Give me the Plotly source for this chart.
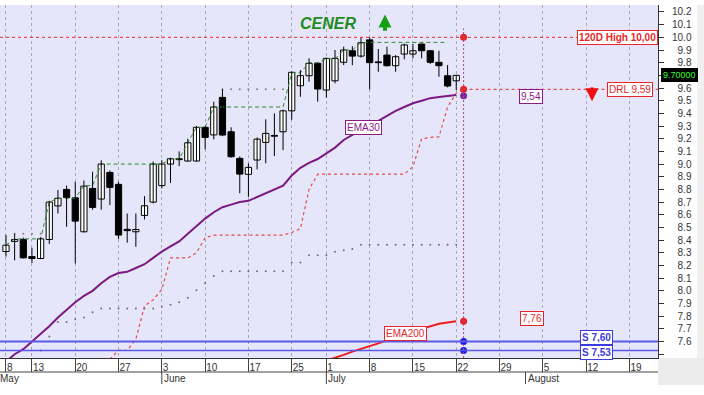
import pandas as pd
import plotly.graph_objects as go

# ---------------- data ----------------
candle_dates = [
    "2019-05-08", "2019-05-09", "2019-05-10", "2019-05-13", "2019-05-14", "2019-05-15", "2019-05-16",
    "2019-05-17", "2019-05-20", "2019-05-21", "2019-05-22", "2019-05-23", "2019-05-24", "2019-05-27",
    "2019-05-28", "2019-05-29", "2019-05-30", "2019-05-31",
    "2019-06-03", "2019-06-04", "2019-06-05", "2019-06-06", "2019-06-07", "2019-06-10", "2019-06-11",
    "2019-06-12", "2019-06-13", "2019-06-14", "2019-06-17", "2019-06-18", "2019-06-19", "2019-06-20",
    "2019-06-21", "2019-06-25", "2019-06-26", "2019-06-27", "2019-06-28",
    "2019-07-01", "2019-07-02", "2019-07-03", "2019-07-04", "2019-07-05", "2019-07-08", "2019-07-09",
    "2019-07-10", "2019-07-11", "2019-07-12", "2019-07-15", "2019-07-16", "2019-07-17", "2019-07-18",
    "2019-07-19", "2019-07-22",
]
open_ = [8.31, 8.39, 8.405, 8.27, 8.255, 8.405, 8.67, 8.80, 8.734, 8.466, 8.808, 8.724, 8.934, 8.84,
         8.485, 8.466, 8.595, 8.70, 8.83, 9.00, 9.042, 9.024, 9.024, 9.29, 9.23, 9.526, 9.255, 9.045,
         8.919, 9.032, 9.171, 9.226, 9.255, 9.42, 9.618, 9.697, 9.795, 9.584, 9.657, 9.803, 9.894,
         9.852, 9.98, 9.806, 9.86, 9.776, 9.868, 9.868, 9.947, 9.894, 9.803, 9.697, 9.657]
high = [8.44, 8.45, 8.42, 8.34, 8.42, 8.71, 8.795, 8.83, 8.86, 8.87, 8.94, 9.03, 8.95, 8.86,
        8.61, 8.61, 8.747, 9.02, 9.03, 9.05, 9.10, 9.20, 9.30, 9.30, 9.492, 9.59, 9.29, 9.06,
        9.006, 9.21, 9.353, 9.40, 9.43, 9.73, 9.742, 9.834, 9.80, 9.84, 9.90, 9.926, 9.93,
        10.0, 10.0, 9.908, 9.926, 9.86, 9.95, 9.947, 9.95, 9.90, 9.894, 9.781, 9.70]
low = [8.27, 8.24, 8.255, 8.22, 8.25, 8.37, 8.61, 8.505, 8.216, 8.46, 8.64, 8.64, 8.676, 8.41,
       8.38, 8.347, 8.563, 8.69, 8.808, 8.85, 8.984, 9.02, 9.02, 9.116, 9.195, 9.22, 9.05, 8.77,
       8.742, 8.958, 9.006, 9.063, 9.11, 9.35, 9.531, 9.65, 9.492, 9.523, 9.637, 9.781, 9.78,
       9.84, 9.59, 9.728, 9.77, 9.728, 9.826, 9.834, 9.834, 9.79, 9.689, 9.605, 9.584]
close = [8.36, 8.405, 8.26, 8.255, 8.41, 8.70, 8.73, 8.737, 8.55, 8.826, 8.658, 9.00, 8.816, 8.44,
         8.475, 8.484, 8.671, 9.00, 9.00, 9.042, 9.035, 9.168, 9.29, 9.21, 9.45, 9.229, 9.058, 8.921,
         8.974, 9.197, 9.242, 9.22, 9.42, 9.724, 9.697, 9.795, 9.592, 9.834, 9.834, 9.90, 9.852,
         9.957, 9.80, 9.80, 9.776, 9.847, 9.94, 9.894, 9.894, 9.803, 9.776, 9.616, 9.70]

ema30 = [7.44, 7.50, 7.54, 7.60, 7.66, 7.72, 7.79, 7.85, 7.91, 7.96, 8.00, 8.06, 8.11, 8.14,
         8.15, 8.18, 8.21, 8.26, 8.31, 8.35, 8.39, 8.45, 8.51, 8.57, 8.62, 8.66, 8.68, 8.70,
         8.71, 8.74, 8.77, 8.80, 8.83, 8.91, 8.97, 9.01, 9.04, 9.085, 9.13, 9.19, 9.23,
         9.27, 9.31, 9.34, 9.38, 9.42, 9.45, 9.48, 9.50, 9.52, 9.53, 9.54, 9.545]

ema200 = [None] * 37 + [7.45, 7.47, 7.495, 7.52, 7.54, 7.56, 7.585, 7.61, 7.63, 7.655, 7.675,
                        7.70, 7.72, 7.74, 7.75, 7.76]

trail_stop = [None] * 12 + [7.46, 7.53, 7.53, 7.62, 7.88, 7.93, 8.01, 8.26, 8.26, 8.26, 8.30,
                            8.42, 8.44, 8.44, 8.44, 8.44, 8.44, 8.44, 8.44, 8.44, 8.44, 8.46,
                            8.49, 8.80, 8.92, 8.92, 8.92, 8.92, 8.92, 8.92, 8.92, 8.92, 8.92,
                            8.92, 8.92, 8.98, 9.20, 9.21, 9.215, 9.45, 9.56]
drl_value = 9.59

high_close = [8.36, 8.41, 8.41, 8.41, 8.41, 8.70, 8.73, 8.73, 8.73, 8.83, 8.83, 9.0, 9.0, 9.0,
              9.0, 9.0, 9.0, 9.0, 9.0, 9.04, 9.04, 9.17, 9.29, 9.29, 9.45, 9.45, 9.45, 9.45,
              9.45, 9.45, 9.45, 9.45, 9.45, 9.72, 9.72, 9.80, 9.80, 9.83, 9.83, 9.90, 9.90,
              9.96, 9.96, 9.96, 9.96, 9.96, 9.96, 9.96, 9.96, 9.96, 9.96, 9.96, None]

upper_dots = [None, 8.45, 8.45, 8.45, 8.45] + [None] * 20 + [9.59] * 8 + [None] * 20

lower_dots = [None] * 4 + [7.53, 7.64, 7.755, 7.755, 7.775, 7.79, 7.83, 7.86, 7.86, 7.86, 7.86,
                           7.86, 7.86, 7.86, 7.875, 7.89, 7.91, 7.945, 8.005, 8.06, 8.116, 8.155,
                           8.155, 8.155, 8.155, 8.155, 8.155, 8.155, 8.155, 8.224, 8.224, 8.28,
                           8.28, 8.28, 8.308, 8.32, 8.33, 8.363, 8.363, 8.363, 8.363, 8.363,
                           8.363, 8.363, 8.363, 8.363, 8.363, 8.363, 8.363]

high_120d = 10.00
ema30_last = 9.54
ema200_last = 7.76
support_1 = 7.60
support_2 = 7.53
last_price = 9.70

tick_dates = ["2019-05-08", "2019-05-13", "2019-05-20", "2019-05-27", "2019-06-03", "2019-06-10",
              "2019-06-17", "2019-06-25", "2019-07-01", "2019-07-08", "2019-07-15", "2019-07-22",
              "2019-07-29", "2019-08-05", "2019-08-12", "2019-08-19"]
month_starts = [("June", "2019-06-03"), ("July", "2019-07-01"), ("August", "2019-08-01")]
y_ticks = [7.5, 7.6, 7.7, 7.8, 7.9, 8.0, 8.1, 8.2, 8.3, 8.4, 8.5, 8.6, 8.7, 8.8, 8.9,
           9.0, 9.1, 9.2, 9.3, 9.4, 9.5, 9.6, 9.7, 9.8, 9.9, 10.0, 10.1, 10.2]

# ---------------- trading calendar (x positions) ----------------
cal = [d.strftime("%Y-%m-%d") for d in pd.bdate_range("2019-05-08", "2019-08-23")
       if d.strftime("%Y-%m-%d") != "2019-06-24"]
pos = {d: k for k, d in enumerate(cal)}
x = [pos[d] for d in candle_dates]
x_next = x[-1] + 0.85

# pixel helpers for layout placement
W, H = 704, 395
ML, MR, MT, MB = 0, 46, 5, 37
PW, PH = W - ML - MR, H - MT - MB
XR = [-0.69, 75.3]
YR = [7.47, 10.255]


def xi(px):
    return XR[0] + (px - ML) / PW * (XR[1] - XR[0])


def py(px):
    return (H - MB - px) / PH


def pxp(px):
    return (px - ML) / PW


FONT = "Liberation Sans, Arial, sans-serif"
RED = "#e8262a"
PURPLE = "#8a1a8a"
BLUE = "#3c3cdc"
GREEN = "#1e8c1e"

fig = go.Figure()

# lower gray dots
fig.add_trace(go.Scatter(x=x, y=lower_dots, mode="markers",
                         marker=dict(size=2, color="#707070"), hoverinfo="skip"))
fig.add_trace(go.Scatter(x=x, y=upper_dots, mode="markers",
                         marker=dict(size=2, color="#808080"), hoverinfo="skip"))
# trailing stop (red dotted)
fig.add_trace(go.Scatter(x=x + [x_next], y=trail_stop + [drl_value], mode="lines",
                         line=dict(color="#e8484a", width=1.2, dash="3px,3px"), hoverinfo="skip",
                         connectgaps=False))
# highest close (green dashed)
fig.add_trace(go.Scatter(x=x, y=high_close, mode="lines",
                         line=dict(color="#2e8b2e", width=1, dash="4px,3px"), hoverinfo="skip"))
# EMA lines
fig.add_trace(go.Scatter(x=x, y=ema30, mode="lines", line=dict(color="#7a1a80", width=2),
                         hoverinfo="skip"))
fig.add_trace(go.Scatter(x=x, y=ema200, mode="lines", line=dict(color="#ee1c1c", width=2),
                         hoverinfo="skip"))

# candles: wicks + bodies
wx, wy = [], []
for xx, lo, hi in zip(x, low, high):
    wx += [xx, xx, None]
    wy += [lo, hi, None]
fig.add_trace(go.Scatter(x=wx, y=wy, mode="lines", line=dict(color="black", width=1),
                         hoverinfo="skip"))
body_base = [min(o, c) for o, c in zip(open_, close)]
body_len = [max(abs(c - o), 0.004) for o, c in zip(open_, close)]
body_col = ["white" if c >= o else "black" for o, c in zip(open_, close)]
fig.add_trace(go.Bar(x=x, y=body_len, base=body_base, width=0.72,
                     marker=dict(color=body_col, line=dict(color="black", width=1)),
                     hoverinfo="skip"))

# dots at next session
fig.add_trace(go.Scatter(
    x=[x_next] * 6,
    y=[high_120d, drl_value, ema30_last, ema200_last, support_1, support_2],
    mode="markers",
    marker=dict(size=7, color=[RED, RED, "#7a2a9a", RED, "#1a1aee", "#1a1aee"]),
    hoverinfo="skip"))

shapes = []
# horizontal support lines
shapes.append(dict(type="line", xref="paper", x0=0, x1=1, yref="y", y0=support_1, y1=support_1,
                   line=dict(color="#5a5ae6", width=2)))
shapes.append(dict(type="line", xref="paper", x0=0, x1=1, yref="y", y0=support_2, y1=support_2,
                   line=dict(color="#5a5ae6", width=1.5)))
# 120D high
shapes.append(dict(type="line", xref="paper", x0=0, x1=1, yref="y", y0=high_120d, y1=high_120d,
                   line=dict(color=RED, width=1, dash="3px,3px")))
# DRL
shapes.append(dict(type="line", xref="x", x0=x_next, x1=XR[1], yref="y", y0=drl_value, y1=drl_value,
                   line=dict(color=RED, width=1, dash="3px,3px")))
# vertical dotted at next session
shapes.append(dict(type="line", xref="x", x0=x_next, x1=x_next, yref="y", y0=YR[0], y1=10.07,
                   line=dict(color="#b8407a", width=1, dash="2px,2px")))
# date axis decorations
shapes.append(dict(type="line", xref="paper", x0=0, x1=1, yref="paper", y0=py(372), y1=py(372),
                   line=dict(color="#444", width=1)))
for name, d in month_starts:
    shapes.append(dict(type="line", xref="x", x0=pos[d], x1=pos[d],
                       yref="paper", y0=py(372), y1=py(384), line=dict(color="#444", width=1)))
# gray corner areas
shapes.append(dict(type="rect", xref="paper", x0=1, x1=pxp(704), yref="paper", y0=py(385), y1=py(358),
                   fillcolor="#ececec", line=dict(width=0), layer="below"))
shapes.append(dict(type="rect", xref="paper", x0=pxp(697), x1=pxp(704), yref="paper", y0=py(358), y1=py(5),
                   fillcolor="#f0f0f0", line=dict(width=0), layer="below"))

ann = []


def box(text, xx, yy, color, xref="x", xanchor="center", bold=False, size=10, bg="white", fc=None):
    ann.append(dict(text=("<b>%s</b>" % text) if bold else text, x=xx, y=yy, xref=xref, yref="y",
                    xanchor=xanchor, yanchor="middle", showarrow=False,
                    font=dict(family=FONT, size=size, color=fc or color),
                    bgcolor=bg, bordercolor=color, borderwidth=1, borderpad=1))


box("120D High 10,00", 1, high_120d, RED, xref="paper", xanchor="right", bold=True)
box("DRL 9,59", xi(653), drl_value, RED, xanchor="right")
box("9,54", xi(531), 9.53, PURPLE)
box("EMA30", xi(363), 9.29, PURPLE)
box("EMA200", xi(405), 7.665, RED)
box("7,76", xi(532), 7.78, RED)
box("S 7,60", xi(596), 7.63, BLUE, bold=True)
box("S 7,53", xi(596), 7.516, BLUE, bold=True)
box("9.70000", pxp(661), last_price, "black", xref="paper", xanchor="left", size=9, bg="black",
    fc="#33ff33")

ann.append(dict(text="<b><i>CENER</i></b>", x=xi(328), y=10.11, xref="x", yref="y", showarrow=False,
                font=dict(family=FONT, size=16, color=GREEN)))
# arrows (head at x,y; tail at ax,ay)
ann.append(dict(text="", x=xi(385), y=10.18, ax=xi(385), ay=10.04, xref="x", yref="y",
                axref="x", ayref="y", showarrow=True, arrowhead=2, arrowsize=0.65, arrowwidth=4,
                arrowcolor="#14a014"))
ann.append(dict(text="", x=xi(592), y=9.495, ax=xi(592), ay=9.615, xref="x", yref="y",
                axref="x", ayref="y", showarrow=True, arrowhead=2, arrowsize=0.65, arrowwidth=4,
                arrowcolor="#ee1111"))
# month labels
ann.append(dict(text="May", x=0, y=py(378), xref="paper", yref="paper", xanchor="left",
                yanchor="middle", xshift=-2, showarrow=False, font=dict(family=FONT, size=10, color="#333")))
for name, d in month_starts:
    ann.append(dict(text=name, x=pos[d], y=py(378), xref="x", yref="paper", xanchor="left",
                    yanchor="middle", xshift=0, showarrow=False,
                    font=dict(family=FONT, size=10, color="#333")))


def ylab(v):
    if v < 7.55 or abs(v - last_price) < 1e-9:
        return ""
    return "%.1f" % v if v >= 10 else "\u2007%.1f" % v


fig.update_layout(
    width=W, height=H, margin=dict(l=ML, r=MR, t=MT, b=MB),
    paper_bgcolor="white", plot_bgcolor="#e6e6fa", showlegend=False,
    shapes=shapes, annotations=ann,
    xaxis=dict(range=XR, tickvals=[pos[d] for d in tick_dates],
               ticktext=[str(int(d[-2:])) for d in tick_dates],
               ticks="outside", ticklen=13, tickcolor="#444", tickwidth=1,
               ticklabelposition="outside right",
               tickfont=dict(family=FONT, size=10, color="#333"),
               showgrid=True, gridcolor="#a8a8b8", griddash="dot", gridwidth=1,
               showline=True, linecolor="#333", linewidth=1, zeroline=False,
               fixedrange=True),
    yaxis=dict(range=YR, side="right", tickvals=y_ticks,
               ticktext=[ylab(v) for v in y_ticks],
               ticks="outside", ticklen=5, tickcolor="#333", ticklabelstandoff=6,
               tickfont=dict(family=FONT, size=10, color="#333"),
               showgrid=False, showline=True, linecolor="#333", linewidth=1, zeroline=False,
               fixedrange=True),
)

fig.write_html("out.html")
